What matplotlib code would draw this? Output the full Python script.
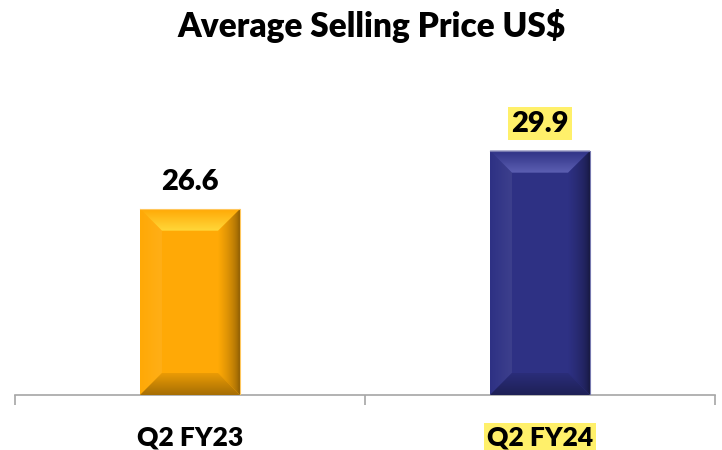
import numpy as np
import matplotlib
matplotlib.use("Agg")
import matplotlib.pyplot as plt
from matplotlib.patches import Polygon
from matplotlib.colors import to_rgb

# data
categories = ["Q2 FY23", "Q2 FY24"]
prices = [26.6, 29.9]
bar_colors = ["#FFA906", "#2E3184"]
top_colors = ["#FFD83A", "#5C5FB2"]
highlight = [False, True]

plt.rcParams["font.family"] = ["Lato", "DejaVu Sans"]
WEIGHT = "heavy"

fig = plt.figure(figsize=(7.22, 4.5), dpi=100)
ax = fig.add_axes([15 / 722, 55 / 450, 700 / 722, 334 / 450])

YMIN, YMAX = 16, 35
x = np.arange(len(categories))
bars = ax.bar(x, [p - YMIN for p in prices], width=0.286, bottom=YMIN,
              color=bar_colors, zorder=2)
ax.set_xlim(-0.5, len(categories) - 0.5)
ax.set_ylim(YMIN, YMAX)


def shade(c, f):
    r = np.array(to_rgb(c))
    if f >= 0:
        return r + (1 - r) * f
    return r * (1 + f)


def grad_face(pts, c_out, c_in, axis, flip, power=1.0):
    # gradient fill clipped to a polygon; axis 0 -> varies along x, 1 -> along y
    poly = Polygon(pts, closed=True, facecolor="none", lw=0, zorder=3)
    ax.add_patch(poly)
    xs = [p[0] for p in pts]
    ys = [p[1] for p in pts]
    t = np.linspace(0, 1, 64) ** power
    if flip:
        t = t[::-1]
    cols = np.outer(1 - t, c_out) + np.outer(t, c_in)
    img = cols[None, :, :] if axis == 0 else cols[:, None, :]
    im = ax.imshow(img, extent=(min(xs), max(xs), min(ys), max(ys)), origin="lower",
                   aspect="auto", zorder=3, interpolation="bilinear")
    im.set_clip_path(poly)


# bevel effect, bevel size given in pixels
px_x = (len(categories)) / 700
px_y = (YMAX - YMIN) / 334
bev = 22
for b, c, ct in zip(bars, bar_colors, top_colors):
    x0, w = b.get_x(), b.get_width()
    y0, y1 = b.get_y(), b.get_y() + b.get_height()
    x1 = x0 + w
    dx, dy = bev * px_x, bev * px_y
    base = np.array(to_rgb(c))
    grad_face([(x0, y0), (x0 + dx, y0 + dy), (x0 + dx, y1 - dy), (x0, y1)],
              shade(c, 0.0), shade(c, 0.07), 0, False)
    grad_face([(x1, y0), (x1 - dx, y0 + dy), (x1 - dx, y1 - dy), (x1, y1)],
              shade(c, -0.6), base, 0, True, power=0.45)
    grad_face([(x0, y0), (x0 + dx, y0 + dy), (x1 - dx, y0 + dy), (x1, y0)],
              shade(c, -0.35), shade(c, -0.08), 1, False)
    grad_face([(x0, y1), (x0 + dx, y1 - dy), (x1 - dx, y1 - dy), (x1, y1)],
              base, np.array(to_rgb(ct)), 1, True)
    ax.plot([x0, x1, x1], [y1, y1, y0], color=shade(c, 0.35), lw=0.8, zorder=4)

# value labels
for i, (b, v) in enumerate(zip(bars, prices)):
    kw = {}
    if highlight[i]:
        kw["bbox"] = dict(boxstyle="square,pad=0.12", fc="#FFF06A", ec="none")
    ax.annotate(f"{v:.1f}", (b.get_x() + b.get_width() / 2, v), xytext=(0, 13.5),
                textcoords="offset points", ha="center", va="baseline",
                fontsize=21, fontweight=WEIGHT, color="black", zorder=5, **kw)

for s in ["top", "right", "left"]:
    ax.spines[s].set_visible(False)
ax.spines["bottom"].set_color("#A6A6A6")
ax.spines["bottom"].set_linewidth(1.2)
ax.set_yticks([])
ax.set_xticks(np.arange(-0.5, len(categories)))
ax.set_xticklabels([])
ax.tick_params(axis="x", length=7.5, width=1.2, color="#A6A6A6", direction="out")

# category labels
for i, (xi, lab) in enumerate(zip(x, categories)):
    kw = {}
    if highlight[i]:
        kw["bbox"] = dict(boxstyle="square,pad=0.12", fc="#FFF06A", ec="none")
    ax.annotate(lab, (xi, YMIN), xytext=(0, -36.5), textcoords="offset points",
                ha="center", va="baseline", fontsize=19, fontweight=WEIGHT,
                annotation_clip=False, **kw)

fig.text(372 / 722, 1 - 37 / 450, "Average Selling Price US$", ha="center", va="baseline",
         fontsize=24, fontweight=WEIGHT)

fig.savefig("out.png", dpi=100, facecolor="white")
